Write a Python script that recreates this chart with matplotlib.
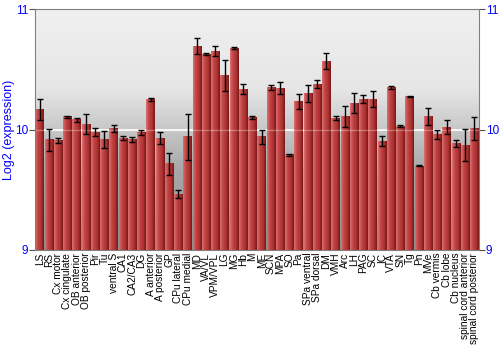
import numpy as np
import matplotlib
matplotlib.use("Agg")
import matplotlib.pyplot as plt
from matplotlib.colors import LinearSegmentedColormap

regions = ["LS", "RS", "Cx motor", "Cx cingulate", "OB anterior", "OB posterior",
           "Pir", "Tu", "ventral S", "CA1", "CA2/CA3", "DG", "A anterior",
           "A posterior", "GP", "CPu lateral", "CPu medial", "MD", "VA/VL",
           "VPM/VPL", "LG", "MG", "Hb", "M", "ME", "SCN", "MPA", "SO", "Pa",
           "SPa ventral", "SPa dorsal", "DM", "VMH", "Arc", "LH", "PAG", "SC",
           "IC", "VTA", "SN", "Tg", "Pn", "MVe", "Cb vermis", "Cb lobe",
           "Cb nucleus", "spinal cord anterior", "spinal cord posterior"]
expr = [10.17, 9.915, 9.91, 10.107, 10.08, 10.045, 9.98, 9.92, 10.007, 9.93,
        9.915, 9.977, 10.25, 9.93, 9.716, 9.465, 9.94, 10.69, 10.627, 10.65,
        10.45, 10.674, 10.336, 10.10, 9.94, 10.35, 10.345, 9.79, 10.234, 10.30,
        10.378, 10.566, 10.095, 10.107, 10.22, 10.253, 10.253, 9.905, 10.35,
        10.029, 10.275, 9.697, 10.11, 9.96, 10.018, 9.885, 9.87, 10.007]
err = [0.087, 0.09, 0.02, 0.008, 0.015, 0.08, 0.03, 0.07, 0.03, 0.015,
       0.02, 0.02, 0.01, 0.05, 0.09, 0.03, 0.19, 0.066, 0.008, 0.04,
       0.127, 0.008, 0.04, 0.01, 0.06, 0.02, 0.05, 0.01, 0.06, 0.07,
       0.03, 0.066, 0.02, 0.09, 0.08, 0.03, 0.065, 0.04, 0.015, 0.005,
       0.004, 0.004, 0.07, 0.04, 0.057, 0.03, 0.133, 0.097]

fig = plt.figure(figsize=(5, 3.5), dpi=100)
ax = fig.add_axes([0.07, 0.286, 0.888, 0.688])
ymin, ymax = 9, 11
n = len(regions)
x = np.arange(n)
w = 0.9

# gray gradient background, light at top
bg = np.linspace(0, 1, 256).reshape(-1, 1)
bgmap = LinearSegmentedColormap.from_list("bg", ["#f0f0f0", "#e6e6e6", "#a8a8a8", "#8e8e8e"])
ax.imshow(bg, cmap=bgmap, aspect="auto", extent=[-0.5, n - 0.5, ymin, ymax],
          origin="upper", zorder=0)
ax.axhline(10, color="white", lw=1.2, zorder=1)

# bars with horizontal shading
barmap = LinearSegmentedColormap.from_list("bar", ["#d87070", "#c04444", "#b03434", "#7a1818"])
grad = np.linspace(0, 1, 32).reshape(1, -1)
for xi, v in zip(x, expr):
    ax.imshow(grad, cmap=barmap, aspect="auto",
              extent=[xi - w / 2, xi + w / 2, ymin, v], zorder=2)
ax.errorbar(x, expr, yerr=err, fmt="none", ecolor="black", elinewidth=1,
            capsize=2, capthick=1, zorder=3)
ax.axhline(10, color="white", lw=1, alpha=0.3, zorder=2.5)

ax.set_xlim(-0.5, n - 0.5)
ax.set_ylim(ymin, ymax)
ax.set_yticks([9, 10, 11])
ax.set_xticks(x)
ax.set_xticklabels(regions, rotation=90, fontsize=7.3, family="Liberation Sans")
ax.tick_params(axis="x", length=0, pad=2)
ax.tick_params(axis="y", direction="out", length=4, color="#555555",
               labelcolor="blue", labelsize=8.5, right=True, labelright=True, pad=1)
for lab in ax.get_yticklabels():
    lab.set_family("Liberation Sans")
ax.set_ylabel("Log2 (expression)", color="blue", fontsize=9,
              family="Liberation Sans")
ax.yaxis.set_label_coords(-0.045, 0.5)
for s in ax.spines.values():
    s.set_color("#808080")

fig.savefig("out.png", dpi=100)
